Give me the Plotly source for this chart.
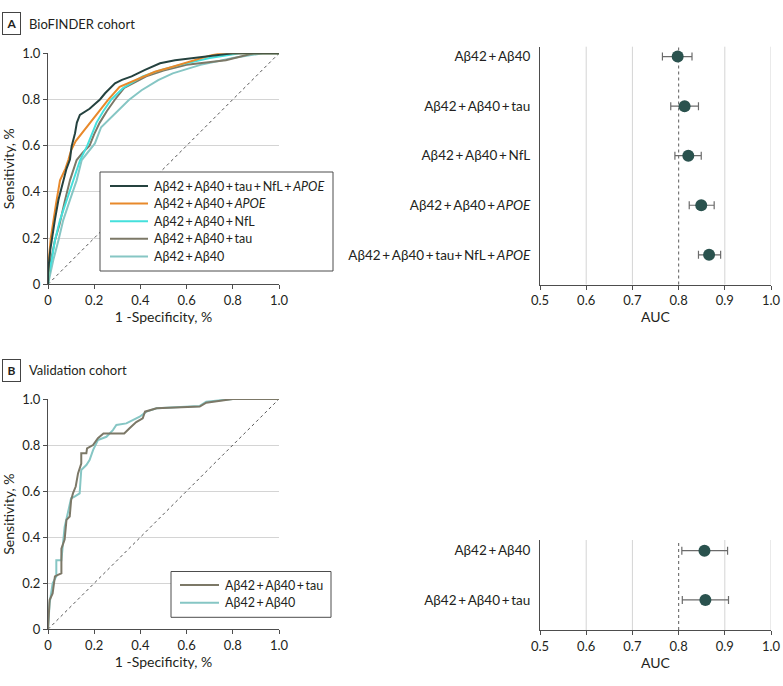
import plotly.graph_objects as go

W, H = 783, 686

# ---------------- data ----------------
# Panel A ROC curves (BioFINDER)
all_x = [0, 0.0, 0.01, 0.02, 0.03, 0.045, 0.065, 0.08, 0.095, 0.102, 0.117, 0.125, 0.138, 0.16, 0.18, 0.203, 0.225, 0.247, 0.27, 0.29, 0.32, 0.362, 0.42, 0.485, 0.55, 0.63, 0.72, 0.8, 1.0]
all_y = [0, 0.05, 0.15, 0.22, 0.28, 0.365, 0.45, 0.5, 0.54, 0.596, 0.654, 0.7, 0.733, 0.747, 0.76, 0.78, 0.8, 0.827, 0.85, 0.87, 0.885, 0.9, 0.928, 0.957, 0.97, 0.98, 0.99, 1.0, 1.0]

apoe_x = [0, 0.003, 0.012, 0.023, 0.035, 0.052, 0.075, 0.088, 0.1, 0.12, 0.146, 0.175, 0.203, 0.23, 0.26, 0.31, 0.377, 0.463, 0.54, 0.62, 0.7, 0.75, 1.0]
apoe_y = [0, 0.1, 0.2, 0.278, 0.35, 0.45, 0.5, 0.538, 0.58, 0.62, 0.654, 0.69, 0.726, 0.76, 0.798, 0.855, 0.884, 0.92, 0.942, 0.965, 0.99, 1.0, 1.0]

nfl_x = [0, 0.005, 0.016, 0.03, 0.052, 0.081, 0.11, 0.139, 0.17, 0.19, 0.21, 0.24, 0.274, 0.325, 0.41, 0.48, 0.57, 0.7, 0.83, 1.0]
nfl_y = [0, 0.05, 0.105, 0.19, 0.278, 0.365, 0.45, 0.538, 0.6, 0.65, 0.7, 0.75, 0.8, 0.85, 0.9, 0.925, 0.95, 0.98, 1.0, 1.0]

tau_x = [0, 0.008, 0.03, 0.05, 0.074, 0.095, 0.124, 0.15, 0.18, 0.2, 0.224, 0.255, 0.29, 0.33, 0.425, 0.5, 0.6, 0.77, 0.89, 1.0]
tau_y = [0, 0.08, 0.19, 0.26, 0.365, 0.45, 0.538, 0.57, 0.6, 0.65, 0.7, 0.75, 0.8, 0.85, 0.9, 0.925, 0.95, 0.97, 1.0, 1.0]

base_x = [0, 0.01, 0.023, 0.045, 0.066, 0.095, 0.124, 0.146, 0.17, 0.203, 0.23, 0.276, 0.35, 0.405, 0.477, 0.54, 0.66, 0.8, 0.93, 1.0]
base_y = [0, 0.05, 0.105, 0.19, 0.278, 0.365, 0.45, 0.538, 0.57, 0.61, 0.68, 0.726, 0.798, 0.84, 0.884, 0.913, 0.95, 0.98, 1.0, 1.0]

# Panel B ROC curves (Validation)
vtau_x = [0, 0.007, 0.02, 0.03, 0.043, 0.058, 0.058, 0.072, 0.08, 0.094, 0.1, 0.108, 0.12, 0.13, 0.144, 0.144, 0.166, 0.169, 0.195, 0.216, 0.24, 0.33, 0.353, 0.382, 0.41, 0.42, 0.47, 0.657, 0.685, 0.77, 0.8, 1.0]
vtau_y = [0, 0.127, 0.156, 0.23, 0.236, 0.243, 0.35, 0.39, 0.475, 0.49, 0.56, 0.59, 0.62, 0.677, 0.72, 0.764, 0.764, 0.786, 0.8, 0.83, 0.85, 0.85, 0.873, 0.9, 0.916, 0.945, 0.96, 0.967, 0.984, 0.995, 1.0, 1.0]

vbase_x = [0, 0.007, 0.02, 0.036, 0.036, 0.058, 0.065, 0.072, 0.087, 0.1, 0.115, 0.137, 0.144, 0.166, 0.18, 0.195, 0.216, 0.253, 0.281, 0.296, 0.339, 0.368, 0.397, 0.426, 0.47, 0.657, 0.685, 0.8, 1.0]
vbase_y = [0, 0.113, 0.2, 0.23, 0.3, 0.3, 0.373, 0.445, 0.51, 0.569, 0.576, 0.59, 0.692, 0.713, 0.735, 0.778, 0.822, 0.836, 0.865, 0.887, 0.894, 0.909, 0.923, 0.945, 0.96, 0.97, 0.988, 1.0, 1.0]

diag = [0, 1]

S = "\u2009+\u2009"  # thin-spaced plus, as in the original typesetting

# Forest plots (AUC with 95% CI)
biofinder_labels = ["Aβ42" + S + "Aβ40", "Aβ42" + S + "Aβ40" + S + "tau", "Aβ42" + S + "Aβ40" + S + "NfL",
                    "Aβ42" + S + "Aβ40" + S + "<i>APOE</i>",
                    "Aβ42" + S + "Aβ40" + S + "tau+\u2009NfL" + S + "<i>APOE</i>"]
biofinder_auc = [0.798, 0.813, 0.821, 0.849, 0.866]
biofinder_lo = [0.765, 0.783, 0.792, 0.823, 0.843]
biofinder_hi = [0.829, 0.843, 0.849, 0.877, 0.891]

valid_labels = ["Aβ42" + S + "Aβ40", "Aβ42" + S + "Aβ40" + S + "tau"]
valid_auc = [0.856, 0.858]
valid_lo = [0.807, 0.808]
valid_hi = [0.906, 0.908]

auc_ticks = [0.5, 0.6, 0.7, 0.8, 0.9, 1.0]
auc_grid = [0.6, 0.7, 0.9, 1.0]
auc_ref = 0.8
roc_ticks = [0, 0.2, 0.4, 0.6, 0.8, 1.0]
roc_ticktext = ["0", "0.2", "0.4", "0.6", "0.8", "1.0"]

# ---------------- styling ----------------
FONT = "Lato, Roboto, sans-serif"
TXT = "#231f20"
AX = "#4d4d4d"
GRID = "#d4d4d4"
C_ALL = "#25423f"
C_APOE = "#e8892b"
C_NFL = "#45e0dc"
C_TAU = "#7c7867"
C_BASE = "#86c6c4"
C_PT = "#2a524e"

def px_x(p):
    return p / W

def px_y(p):
    return 1 - p / H

fig = go.Figure()

# ---- Panel A ROC ----
fig.add_trace(go.Scatter(x=diag, y=diag, mode="lines", xaxis="x", yaxis="y",
                         line=dict(color="#555555", width=1, dash="dot"), showlegend=False, hoverinfo="skip"))
roc_a = [
    ("Aβ42" + S + "Aβ40", base_x, base_y, C_BASE),
    ("Aβ42" + S + "Aβ40" + S + "tau", tau_x, tau_y, C_TAU),
    ("Aβ42" + S + "Aβ40" + S + "NfL", nfl_x, nfl_y, C_NFL),
    ("Aβ42" + S + "Aβ40" + S + "<i>APOE</i>", apoe_x, apoe_y, C_APOE),
    ("Aβ42" + S + "Aβ40" + S + "tau" + S + "NfL" + S + "<i>APOE</i>", all_x, all_y, C_ALL),
]
for name, xs, ys, c in roc_a:
    fig.add_trace(go.Scatter(x=xs, y=ys, mode="lines", name=name, xaxis="x", yaxis="y",
                             line=dict(color=c, width=2), showlegend=False))

# ---- Panel B ROC ----
fig.add_trace(go.Scatter(x=diag, y=diag, mode="lines", xaxis="x3", yaxis="y3",
                         line=dict(color="#555555", width=1, dash="dot"), showlegend=False, hoverinfo="skip"))
roc_b = [
    ("Aβ42" + S + "Aβ40", vbase_x, vbase_y, C_BASE),
    ("Aβ42" + S + "Aβ40" + S + "tau", vtau_x, vtau_y, C_TAU),
]
for name, xs, ys, c in roc_b:
    fig.add_trace(go.Scatter(x=xs, y=ys, mode="lines", name=name, xaxis="x3", yaxis="y3",
                             line=dict(color=c, width=2), showlegend=False))

# ---- Forest plots ----
def forest(auc, lo, hi, xa, ya):
    idx = list(range(len(auc)))
    fig.add_trace(go.Scatter(
        x=auc, y=idx, mode="markers", xaxis=xa, yaxis=ya, showlegend=False,
        marker=dict(color=C_PT, size=12),
        error_x=dict(type="data", symmetric=False,
                     array=[h - a for h, a in zip(hi, auc)],
                     arrayminus=[a - l for a, l in zip(auc, lo)],
                     color="#6b6b6b", thickness=1.2, width=4)))

forest(biofinder_auc, biofinder_lo, biofinder_hi, "x2", "y2")
forest(valid_auc, valid_lo, valid_hi, "x4", "y4")

shapes = []
annotations = []
for xa, ya in [("x2", "y2"), ("x4", "y4")]:
    for g in auc_grid:
        shapes.append(dict(type="line", xref=xa, yref=f"{ya} domain", x0=g, x1=g, y0=0, y1=1,
                           line=dict(color=GRID, width=1), layer="below"))
    shapes.append(dict(type="line", xref=xa, yref=f"{ya} domain", x0=auc_ref, x1=auc_ref, y0=0, y1=1,
                       line=dict(color="#777777", width=1.2, dash="dot"), layer="below"))

# ---- Legends (boxed, drawn in paper space) ----
LEG_FONT = dict(family=FONT, size=12.5, color=TXT)

def legend_box(entries, box, line_x, text_x, row_y0, row_dy):
    x0, y0, x1, y1 = box
    shapes.append(dict(type="rect", xref="paper", yref="paper",
                       x0=px_x(x0), x1=px_x(x1), y0=px_y(y1), y1=px_y(y0),
                       line=dict(color=AX, width=1), fillcolor="white", layer="above"))
    for i, (name, c) in enumerate(entries):
        yy = row_y0 + i * row_dy
        shapes.append(dict(type="line", xref="paper", yref="paper",
                           x0=px_x(line_x[0]), x1=px_x(line_x[1]), y0=px_y(yy), y1=px_y(yy),
                           line=dict(color=c, width=2), layer="above"))
        annotations.append(dict(text=name, x=px_x(text_x), y=px_y(yy), xref="paper", yref="paper",
                                showarrow=False, xanchor="left", yanchor="middle", font=LEG_FONT))

legend_box([(n, c) for n, _, _, c in reversed(roc_a)], (100, 172, 333, 271), (110, 148), 152, 186, 17.6)
legend_box([(n, c) for n, _, _, c in reversed(roc_b)], (171, 571.5, 331, 617.3), (180, 219), 223, 585, 17.7)

tickfont = dict(family=FONT, size=13, color=TXT)
titlefont = dict(family=FONT, size=14, color=TXT)
labelfont = dict(family=FONT, size=13.5, color=TXT)

def roc_axes(dom_x, dom_y):
    xa = dict(domain=dom_x, range=[0, 1], tickvals=roc_ticks, ticktext=roc_ticktext,
              showgrid=False, zeroline=False, showline=True, linecolor=AX, linewidth=1,
              ticks="outside", ticklen=4, tickcolor=AX, tickfont=tickfont, automargin=False,
              title=dict(text="1 -Specificity, %", font=titlefont, standoff=2))
    ya = dict(domain=dom_y, range=[0, 1], tickvals=roc_ticks, ticktext=roc_ticktext,
              showgrid=True, gridcolor=GRID, gridwidth=1, zeroline=False,
              showline=True, linecolor=AX, linewidth=1, automargin=False,
              ticks="outside", ticklen=4, tickcolor=AX, tickfont=tickfont,
              title=dict(text="Sensitivity, %", font=titlefont, standoff=5))
    return xa, ya

def forest_axes(dom_x, dom_y, labels, rng):
    xa = dict(domain=dom_x, range=[0.5, 1.0], tickvals=auc_ticks,
              ticktext=[f"{t:.1f}" for t in auc_ticks],
              showgrid=False, zeroline=False, showline=True, linecolor=AX, linewidth=1,
              ticks="outside", ticklen=4, tickcolor=AX, tickfont=tickfont, automargin=False,
              title=dict(text="AUC", font=titlefont, standoff=2))
    ya = dict(domain=dom_y, range=rng, tickvals=list(range(len(labels))), ticktext=labels,
              showgrid=False, zeroline=False, showline=True, linecolor=AX, linewidth=1,
              ticks="", tickfont=labelfont, ticklabelstandoff=6, automargin=False)
    return xa, ya

xA, yA = roc_axes([px_x(48), px_x(279)], [px_y(284.3), px_y(53.3)])
xB, yB = roc_axes([px_x(48), px_x(279)], [px_y(629.3), px_y(399)])
xF1, yF1 = forest_axes([px_x(540), px_x(771)], [px_y(284.5), px_y(46.7)], biofinder_labels, [4.6, -0.2])
xF2, yF2 = forest_axes([px_x(540), px_x(771)], [px_y(630), px_y(540)], valid_labels, [1.61, -0.217])
yA["anchor"] = "x"; xA["anchor"] = "y"
yB["anchor"] = "x3"; xB["anchor"] = "y3"
yF1["anchor"] = "x2"; xF1["anchor"] = "y2"
yF2["anchor"] = "x4"; xF2["anchor"] = "y4"

for letter, title, yy in [("A", "BioFINDER cohort", 24), ("B", "Validation cohort", 370)]:
    annotations.append(dict(text=f"<b>{letter}</b>", x=px_x(2), y=px_y(yy), xref="paper", yref="paper",
                            showarrow=False, xanchor="left", yanchor="middle",
                            font=dict(family=FONT, size=12, color=TXT),
                            bordercolor="#444444", borderwidth=1, borderpad=3, width=11))
    annotations.append(dict(text=title, x=px_x(27), y=px_y(yy), xref="paper", yref="paper",
                            showarrow=False, xanchor="left", yanchor="middle",
                            font=dict(family=FONT, size=13, color=TXT)))

fig.update_layout(
    width=W, height=H, margin=dict(l=0, r=0, t=0, b=0, autoexpand=False),
    paper_bgcolor="white", plot_bgcolor="white",
    font=dict(family=FONT, size=13, color=TXT),
    xaxis=xA, yaxis=yA, xaxis3=xB, yaxis3=yB,
    xaxis2=xF1, yaxis2=yF1, xaxis4=xF2, yaxis4=yF2,
    showlegend=False,
    shapes=shapes, annotations=annotations,
)

fig.write_html("out.html", config={"displayModeBar": False},
               post_script="document.body.style.margin='0';document.body.style.overflow='hidden';")
